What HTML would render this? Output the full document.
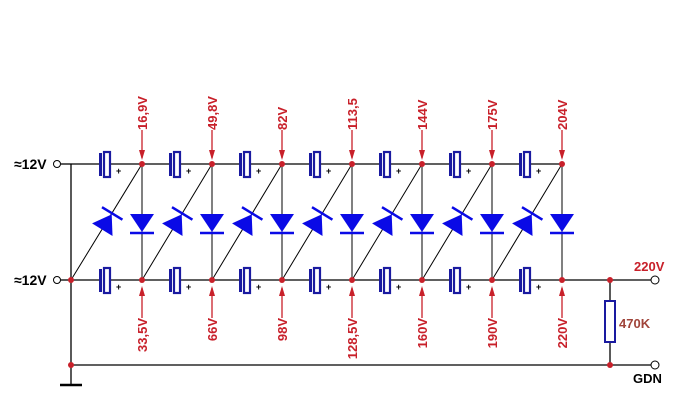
<!DOCTYPE html>
<html><head><meta charset="utf-8"><style>
html,body{margin:0;padding:0;background:#fff;width:695px;height:411px;overflow:hidden}
svg{display:block}
.lbl{font-family:"Liberation Sans",sans-serif;font-weight:bold;font-size:13px;fill:#c8202a}
</style></head><body>
<svg width="695" height="411" viewBox="0 0 695 411" xmlns="http://www.w3.org/2000/svg">
<defs>
<g id="cap">
<line x1="0" y1="0" x2="27" y2="0" stroke="#000" stroke-width="1.2"/>
<line x1="37" y1="0" x2="70" y2="0" stroke="#000" stroke-width="1.2"/>
<rect x="27" y="-11" width="3" height="23" fill="#1a1aa0"/>
<rect x="32" y="-12" width="6" height="25" fill="#fff" stroke="#1a1aa0" stroke-width="2.2"/>
<text x="44" y="10" font-family="Liberation Sans,sans-serif" font-size="9" font-weight="bold" fill="#000">+</text>
</g>
<g id="dio">
<polygon points="-12,-9 12,-9 0,9" fill="#0a0ae6"/>
<line x1="-12" y1="10" x2="12" y2="10" stroke="#0a0ae6" stroke-width="2.5"/>
</g>
<g id="tarr">
<line x1="0" y1="130" x2="0" y2="158" stroke="#c8202a" stroke-width="1.3"/>
<polygon points="-3,150 3,150 0,160" fill="#c8202a"/>
</g>
<g id="barr">
<line x1="0" y1="288" x2="0" y2="318" stroke="#c8202a" stroke-width="1.3"/>
<polygon points="-3,296 3,296 0,286" fill="#c8202a"/>
</g>
</defs>
<!-- input labels -->
<text x="14" y="169" font-family="Liberation Sans,sans-serif" font-size="14" font-weight="bold">≈12V</text>
<text x="14" y="285" font-family="Liberation Sans,sans-serif" font-size="14" font-weight="bold">≈12V</text>
<circle cx="57" cy="164" r="3.5" fill="#fff" stroke="#000"/>
<circle cx="57" cy="280" r="3.5" fill="#fff" stroke="#000"/>
<line x1="61" y1="164" x2="72" y2="164" stroke="#000" stroke-width="1.3"/>
<line x1="61" y1="280" x2="72" y2="280" stroke="#000" stroke-width="1.3"/>
<line x1="71" y1="164" x2="71" y2="385" stroke="#000" stroke-width="1.3"/>
<line x1="60" y1="385" x2="82" y2="385" stroke="#000" stroke-width="2.5"/>
<line x1="71" y1="365" x2="651" y2="365" stroke="#000" stroke-width="1.3"/>
<!-- caps -->
<g id="caps">
<use href="#cap" x="72" y="164"/><use href="#cap" x="142" y="164"/><use href="#cap" x="212" y="164"/><use href="#cap" x="282" y="164"/><use href="#cap" x="352" y="164"/><use href="#cap" x="422" y="164"/><use href="#cap" x="492" y="164"/>
<use href="#cap" x="72" y="280"/><use href="#cap" x="142" y="280"/><use href="#cap" x="212" y="280"/><use href="#cap" x="282" y="280"/><use href="#cap" x="352" y="280"/><use href="#cap" x="422" y="280"/><use href="#cap" x="492" y="280"/>
</g>
<!-- verticals & diagonals -->
<g stroke="#000" stroke-width="1">
<line x1="142" y1="164" x2="142" y2="280"/><line x1="212" y1="164" x2="212" y2="280"/><line x1="282" y1="164" x2="282" y2="280"/><line x1="352" y1="164" x2="352" y2="280"/><line x1="422" y1="164" x2="422" y2="280"/><line x1="492" y1="164" x2="492" y2="280"/><line x1="562" y1="164" x2="562" y2="280"/>
<line x1="71" y1="280" x2="142" y2="164"/><line x1="142" y1="280" x2="212" y2="164"/><line x1="212" y1="280" x2="282" y2="164"/><line x1="282" y1="280" x2="352" y2="164"/><line x1="352" y1="280" x2="422" y2="164"/><line x1="422" y1="280" x2="492" y2="164"/><line x1="492" y1="280" x2="562" y2="164"/>
</g>
<!-- vertical diodes -->
<use href="#dio" x="142" y="223"/><use href="#dio" x="212" y="223"/><use href="#dio" x="282" y="223"/><use href="#dio" x="352" y="223"/><use href="#dio" x="422" y="223"/><use href="#dio" x="492" y="223"/><use href="#dio" x="562" y="223"/>
<!-- diagonal diodes -->
<g transform="translate(107,222) rotate(-148.5)"><use href="#dio"/></g>
<g transform="translate(177,222) rotate(-148.5)"><use href="#dio"/></g>
<g transform="translate(247,222) rotate(-148.5)"><use href="#dio"/></g>
<g transform="translate(317,222) rotate(-148.5)"><use href="#dio"/></g>
<g transform="translate(387,222) rotate(-148.5)"><use href="#dio"/></g>
<g transform="translate(457,222) rotate(-148.5)"><use href="#dio"/></g>
<g transform="translate(527,222) rotate(-148.5)"><use href="#dio"/></g>
<!-- output -->
<line x1="562" y1="280" x2="651" y2="280" stroke="#000" stroke-width="1.3"/>
<circle cx="655" cy="280" r="4" fill="#fff" stroke="#000"/>
<circle cx="655" cy="365" r="4" fill="#fff" stroke="#000"/>
<line x1="610" y1="280" x2="610" y2="365" stroke="#000" stroke-width="1.3"/>
<rect x="605" y="301" width="10" height="41" fill="#fff" stroke="#1a1aa0" stroke-width="2"/>
<text x="634" y="271" class="lbl" font-size="14">220V</text>
<text x="619" y="328" font-family="Liberation Sans,sans-serif" font-weight="bold" font-size="13" fill="#a0443a">470K</text>
<text x="633" y="383" font-family="Liberation Sans,sans-serif" font-weight="bold" font-size="13" fill="#000">GDN</text>
<!-- dots -->
<g fill="#c8202a">
<circle cx="142" cy="164" r="3"/><circle cx="212" cy="164" r="3"/><circle cx="282" cy="164" r="3"/><circle cx="352" cy="164" r="3"/><circle cx="422" cy="164" r="3"/><circle cx="492" cy="164" r="3"/><circle cx="562" cy="164" r="3"/>
<circle cx="71" cy="280" r="3"/><circle cx="142" cy="280" r="3"/><circle cx="212" cy="280" r="3"/><circle cx="282" cy="280" r="3"/><circle cx="352" cy="280" r="3"/><circle cx="422" cy="280" r="3"/><circle cx="492" cy="280" r="3"/><circle cx="562" cy="280" r="3"/>
<circle cx="610" cy="280" r="3"/><circle cx="610" cy="365" r="3"/><circle cx="71" cy="365" r="3"/>
</g>
<!-- arrows -->
<use href="#tarr" x="142"/><use href="#tarr" x="212"/><use href="#tarr" x="282"/><use href="#tarr" x="352"/><use href="#tarr" x="422"/><use href="#tarr" x="492"/><use href="#tarr" x="562"/>
<use href="#barr" x="142"/><use href="#barr" x="212"/><use href="#barr" x="282"/><use href="#barr" x="352"/><use href="#barr" x="422"/><use href="#barr" x="492"/><use href="#barr" x="562"/>
<!-- top labels (rotated, end at y=129) -->
<g class="lbl">
<text transform="translate(147,130) rotate(-90)">16,9V</text>
<text transform="translate(217,130) rotate(-90)">49,8V</text>
<text transform="translate(287,130) rotate(-90)">82V</text>
<text transform="translate(357,130) rotate(-90)">113,5</text>
<text transform="translate(427,130) rotate(-90)">144V</text>
<text transform="translate(497,130) rotate(-90)">175V</text>
<text transform="translate(567,130) rotate(-90)">204V</text>
</g>
<g class="lbl" text-anchor="end">
<text transform="translate(147,318) rotate(-90)">33,5V</text>
<text transform="translate(217,318) rotate(-90)">66V</text>
<text transform="translate(287,318) rotate(-90)">98V</text>
<text transform="translate(357,318) rotate(-90)">128,5V</text>
<text transform="translate(427,318) rotate(-90)">160V</text>
<text transform="translate(497,318) rotate(-90)">190V</text>
<text transform="translate(567,318) rotate(-90)">220V</text>
</g>
</svg>
</body></html>
